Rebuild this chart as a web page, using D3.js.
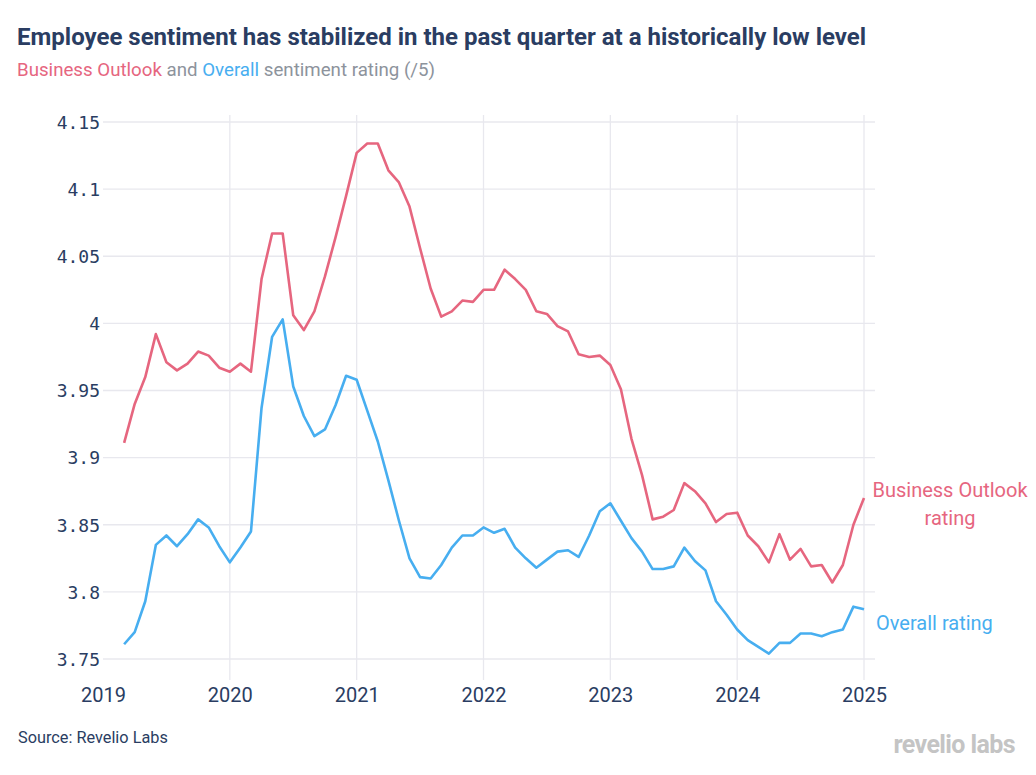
<!DOCTYPE html>
<html>
<head>
<meta charset="utf-8">
<script src="https://cdn.jsdelivr.net/npm/d3@7"></script>
<style>
  html, body { margin: 0; padding: 0; background: #ffffff; }
  svg { display: block; font-family: Roboto, "Noto Sans", sans-serif; }
</style>
</head>
<body>
<svg id="chart" width="1036" height="775"></svg>
<script>
// ---- data ----
const startYear = 2019;
const startMonth = 3; // March 2019, monthly through Jan 2025
const businessOutlook = [
  3.911, 3.940, 3.960, 3.992, 3.971, 3.965, 3.970, 3.979, 3.976, 3.967,
  3.964, 3.970, 3.964, 4.033, 4.067, 4.067, 4.006, 3.995, 4.009, 4.035,
  4.064, 4.095, 4.127, 4.134, 4.134, 4.114, 4.105, 4.087, 4.056, 4.026,
  4.005, 4.009, 4.017, 4.016, 4.025, 4.025, 4.040, 4.033, 4.025, 4.009,
  4.007, 3.998, 3.994, 3.977, 3.975, 3.976, 3.969, 3.951, 3.914, 3.887,
  3.854, 3.856, 3.861, 3.881, 3.875, 3.866, 3.852, 3.858, 3.859, 3.842,
  3.834, 3.822, 3.843, 3.824, 3.832, 3.819, 3.820, 3.807, 3.820, 3.850,
  3.870
];
const overall = [
  3.761, 3.770, 3.793, 3.835, 3.842, 3.834, 3.843, 3.854, 3.848, 3.834,
  3.822, 3.833, 3.845, 3.937, 3.990, 4.003, 3.953, 3.931, 3.916, 3.921,
  3.939, 3.961, 3.958, 3.935, 3.912, 3.883, 3.853, 3.825, 3.811, 3.810,
  3.820, 3.833, 3.842, 3.842, 3.848, 3.844, 3.847, 3.833, 3.825, 3.818,
  3.824, 3.830, 3.831, 3.826, 3.842, 3.860, 3.866, 3.853, 3.840, 3.830,
  3.817, 3.817, 3.819, 3.833, 3.823, 3.816, 3.793, 3.783, 3.772, 3.764,
  3.759, 3.754, 3.762, 3.762, 3.769, 3.769, 3.767, 3.770, 3.772, 3.789,
  3.787
];
const yTicks = [3.75, 3.8, 3.85, 3.9, 3.95, 4, 4.05, 4.1, 4.15];
const xTicks = [2019, 2020, 2021, 2022, 2023, 2024, 2025];
const xGrid = [2020, 2021, 2022, 2023, 2024, 2025];

const colors = { outlook: "#e6667f", overall: "#47aef0", text: "#2a3d62", grid: "#e8e8ee", sub: "#8d939c" };

const svg = d3.select("#chart");

const x = d3.scaleLinear().domain([2019, 2025]).range([103, 864]);
const y = d3.scaleLinear().domain([3.75, 4.15]).range([659, 122]);
const plotLeft = 103, plotRight = 875, plotTop = 115, plotBottom = 680;

const toYear = i => startYear + (startMonth - 1 + i) / 12;

// title
svg.append("text").attr("x", 17).attr("y", 45)
  .attr("font-size", 24).attr("font-weight", 700).attr("fill", colors.text)
  .text("Employee sentiment has stabilized in the past quarter at a historically low level");

const sub = svg.append("text").attr("x", 17).attr("y", 76).attr("font-size", 18.7).attr("fill", colors.sub);
sub.append("tspan").attr("fill", colors.outlook).text("Business Outlook");
sub.append("tspan").text(" and ");
sub.append("tspan").attr("fill", colors.overall).text("Overall");
sub.append("tspan").text(" sentiment rating (/5)");

// horizontal grid
svg.append("g").selectAll("line").data(yTicks).join("line")
  .attr("x1", plotLeft).attr("x2", plotRight)
  .attr("y1", d => y(d)).attr("y2", d => y(d))
  .attr("stroke", colors.grid).attr("stroke-width", 1.3);

// vertical grid
svg.append("g").selectAll("line").data(xGrid).join("line")
  .attr("x1", d => x(d)).attr("x2", d => x(d))
  .attr("y1", plotTop).attr("y2", plotBottom)
  .attr("stroke", colors.grid).attr("stroke-width", 1.3);

// y axis labels
const yAxis = d3.axisLeft(y).tickValues(yTicks).tickSize(0).tickPadding(0)
  .tickFormat(d => d3.format("")(+d.toFixed(2)));
const gy = svg.append("g").attr("transform", `translate(100,0)`).call(yAxis);
gy.select(".domain").remove();
gy.selectAll("text").attr("font-family", "'DejaVu Sans Mono', monospace")
  .attr("font-size", 18).attr("fill", colors.text).attr("dy", "0.35em");

// x axis labels
const xAxis = d3.axisBottom(x).tickValues(xTicks).tickSize(0).tickPadding(0).tickFormat(d3.format("d"));
const gx = svg.append("g").attr("transform", `translate(0,${plotBottom + 2})`).call(xAxis);
gx.select(".domain").remove();
gx.selectAll("text").attr("font-family", "Roboto, sans-serif")
  .attr("font-size", 20).attr("fill", colors.text).attr("dy", "1em");

// lines
const line = d3.line().x((d, i) => x(toYear(i))).y(d => y(d));
svg.append("path").datum(overall).attr("d", line)
  .attr("fill", "none").attr("stroke", colors.overall).attr("stroke-width", 2.6).attr("stroke-linejoin", "round");
svg.append("path").datum(businessOutlook).attr("d", line)
  .attr("fill", "none").attr("stroke", colors.outlook).attr("stroke-width", 2.6).attr("stroke-linejoin", "round");

// line labels
const lb = svg.append("text").attr("text-anchor", "middle").attr("font-size", 20).attr("fill", colors.outlook);
lb.append("tspan").attr("x", 950).attr("y", 497).text("Business Outlook");
lb.append("tspan").attr("x", 950).attr("y", 525).text("rating");
svg.append("text").attr("x", 876).attr("y", 630).attr("font-size", 20).attr("fill", colors.overall).text("Overall rating");

// footer
svg.append("text").attr("x", 18).attr("y", 743).attr("font-size", 16.3).attr("fill", colors.text).text("Source: Revelio Labs");
svg.append("text").attr("x", 1015).attr("y", 753).attr("text-anchor", "end")
  .attr("font-size", 25).attr("font-weight", 700).attr("fill", "#c4c4c4").attr("letter-spacing", -0.6).text("revelio labs");
</script>
</body>
</html>
